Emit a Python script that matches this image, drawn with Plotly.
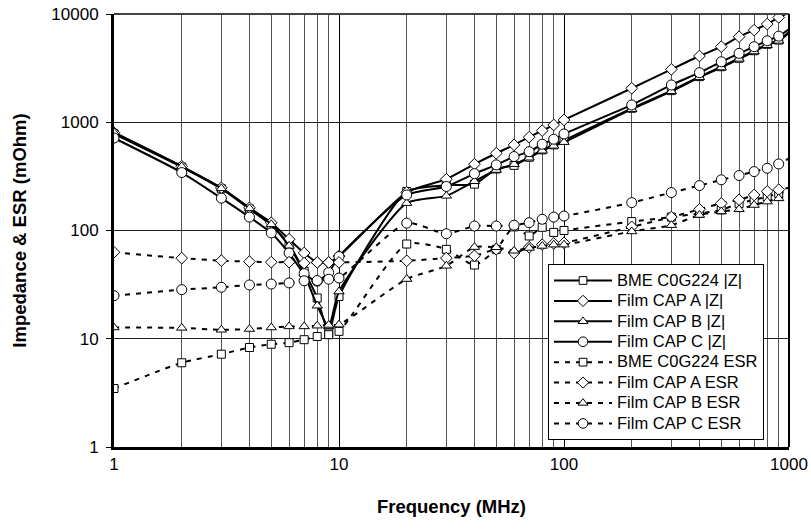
import plotly.graph_objects as go

freq = [1, 2, 3, 4, 5, 6, 7, 8, 9, 10, 20, 30, 40, 50, 60, 70, 80, 90, 100,
        200, 300, 400, 500, 600, 700, 800, 900, 1000]

bme_z = [780, 385, 243, 158, 112, 74, 42, 23.8, 11.3, 24.6, 229, 262, 268, 370, 400, 475, 556, 618, 680,
         1346, 1960, 2640, 3260, 3900, 4580, 5250, 5740, 6800]
film_a_z = [800, 392, 248, 162, 118, 83, 62, 50.7, 50.7, 58, 225, 298, 410, 517, 618, 728, 837, 944, 1050,
            2060, 3080, 4090, 4990, 6170, 7100, 8070, 9290, 10300]
film_b_z = [805, 390, 245, 160, 114, 72, 40, 20.2, 13, 27.3, 179, 209, 285, 362, 410, 470, 545, 605, 655,
            1320, 1930, 2600, 3200, 3850, 4500, 5150, 5650, 6700]
film_c_z = [715, 343, 199, 133, 95, 62, 40, 34, 41, 57.5, 213, 255, 335, 404, 482, 535, 627, 697, 780,
            1445, 2210, 2870, 3620, 4330, 4990, 5660, 6250, 7210]

bme_esr = [3.47, 6.0, 7.2, 8.3, 8.9, 9.2, 9.8, 10.5, 10.9, 11.7, 75, 67, 48, 67, 108, 89, 107, 96, 100,
           121, 133, 144, 155, 178, 192, 205, 220, 232]
film_a_esr = [63, 55.5, 52.7, 51.6, 51, 51, 50, 50.7, 50.7, 50.7, 52.5, 55.6, 58.4, 67, 62, 70, 74, 76, 77,
              108, 133, 157, 178, 192, 213, 230, 238, 248]
film_b_esr = [12.7, 12.6, 12.1, 12.3, 12.7, 13.0, 13.0, 13.2, 13.4, 13.5, 35.6, 47.2, 70.3, 70, 65, 69, 72, 74, 74,
              98, 112, 139, 150, 157, 172, 185, 198, 208]
film_c_esr = [25, 28.4, 29.9, 31.4, 32, 32.8, 34.3, 34.5, 35.5, 36.4, 117, 93.3, 110, 110, 112, 118, 127, 133, 136,
              181, 224, 260, 294, 322, 350, 376, 412, 465]

names = ["BME C0G224 |Z|", "Film CAP A |Z|", "Film CAP B |Z|", "Film CAP C |Z|",
         "BME C0G224 ESR", "Film CAP A ESR", "Film CAP B ESR", "Film CAP C ESR"]
series = [bme_z, film_a_z, film_b_z, film_c_z, bme_esr, film_a_esr, film_b_esr, film_c_esr]
symbols = ["square", "diamond", "triangle-up", "circle"] * 2
msizes = {"square": 8, "diamond": 9, "triangle-up": 9, "circle": 10}

fig = go.Figure()
for i, (nm, ys) in enumerate(zip(names, series)):
    sym = symbols[i]
    dash = "solid" if i < 4 else "5px,6px"
    sizes = [msizes[sym]] * (len(freq) - 1) + [0]
    fig.add_trace(go.Scatter(
        x=freq, y=ys, mode="lines+markers",
        name='<span style="font-size:16.5px">' + nm + '</span>',
        line=dict(color="black", width=2, dash=dash, shape="spline", smoothing=0.6),
        marker=dict(symbol=sym, size=sizes, color="white", opacity=1,
                    line=dict(color="black", width=1)),
    ))

font_family = "Liberation Sans, Arial, sans-serif"
fig.update_layout(
    template="none",
    width=811, height=531,
    margin=dict(l=114, r=22, t=14, b=84),
    paper_bgcolor="white", plot_bgcolor="white",
    font=dict(family=font_family, color="black", size=17),
    showlegend=True,
    legend=dict(x=0.643, y=0.422, xanchor="left", yanchor="top",
                bgcolor="white", bordercolor="black", borderwidth=1,
                font=dict(size=13.4, family=font_family), itemwidth=58,
                tracegroupgap=0),
    xaxis=dict(type="log", range=[0, 3], automargin=False,
               tickvals=[1, 10, 100, 1000], ticktext=["1", "10", "100", "1000"],
               showgrid=True, gridcolor="black", gridwidth=1,
               minor=dict(dtick="D1", showgrid=True, gridcolor="#555", gridwidth=1, ticklen=0),
               showline=True, linecolor="black", linewidth=3,
               ticks="", tickfont=dict(size=17),
               title=dict(text="<b>Frequency (MHz)</b>", font=dict(size=18.5), standoff=27),
               zeroline=False),
    yaxis=dict(type="log", range=[0, 4], automargin=False,
               tickvals=[1, 10, 100, 1000, 10000], ticktext=["1", "10", "100", "1000", "10000"],
               showgrid=True, gridcolor="#222", gridwidth=1,
               showline=True, linecolor="black", linewidth=3,
               ticks="outside", ticklen=5, tickcolor="black", tickwidth=1,
               ticklabelstandoff=4,
               tickfont=dict(size=17),
               title=dict(text="<b>Impedance &amp; ESR (mOhm)</b>", font=dict(size=18.5), standoff=20),
               zeroline=False),
    shapes=[dict(type="line", xref="paper", yref="paper", x0=0, x1=1, y0=1, y1=1,
                 line=dict(color="#444", width=2)),
            dict(type="line", xref="paper", yref="paper", x0=1, x1=1, y0=0, y1=1,
                 line=dict(color="black", width=2))],
)

fig.write_html("out.html", config={"displayModeBar": False},
               post_script="document.body.style.margin='0';")
